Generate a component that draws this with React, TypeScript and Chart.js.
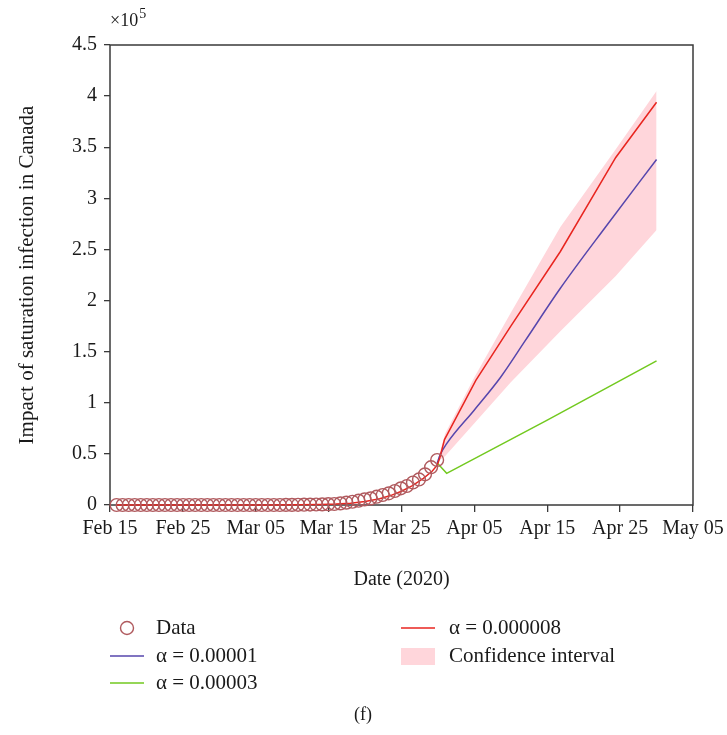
import React, { useEffect, useRef } from 'react';
import { Chart, registerables } from 'chart.js';

Chart.register(...registerables);

// ---- data (values in units of 10^5) ----
const xTickLabels = ['Feb 15', 'Feb 25', 'Mar 05', 'Mar 15', 'Mar 25', 'Apr 05', 'Apr 15', 'Apr 25', 'May 05'];

const observed = [
  0, 0, 0, 0, 0, 0, 0, 0, 0, 0,
  0, 0, 0, 0, 0, 0, 0, 0, 0, 0,
  0, 0, 0, 0, 0, 0, 0, 0, 0.001, 0.001,
  0.002, 0.003, 0.004, 0.005, 0.006, 0.008, 0.010, 0.016, 0.023, 0.032,
  0.042, 0.055, 0.065, 0.081, 0.098, 0.114, 0.137, 0.163, 0.186, 0.22,
  0.25, 0.30, 0.37, 0.44,
];
const OBS_START = 0.9;
const OBS_STEP = 0.83;

const fitDays = [0.9, 15, 22, 26, 29, 31, 33, 35, 37, 38.5, 40, 41.5, 43, 44.2, 44.9, 45.25, 45.9, 46.5, 50.2, 55, 61.8, 69.4, 75];
const alpha8 = [0, 0, 0.0005, 0.002, 0.005, 0.009, 0.018, 0.034, 0.062, 0.092, 0.135, 0.19, 0.26, 0.33, 0.39, 0.46, 0.64, 0.72, 1.22, 1.75, 2.48, 3.40, 3.94];

const alpha10Days = [44.9, 45.3, 46.2, 50, 53.6, 57, 61.8, 68, 75];
const alpha10 = [0.41, 0.49, 0.60, 0.93, 1.25, 1.61, 2.12, 2.72, 3.38];

const alpha30Days = [44.9, 46.2, 60, 75];
const alpha30 = [0.41, 0.31, 0.83, 1.41];

const ciDays = [44.9, 46, 50, 55, 61.8, 69.4, 75];
const ciUpper = [0.42, 0.70, 1.25, 1.88, 2.72, 3.48, 4.05];
const ciLower = [0.42, 0.48, 0.80, 1.20, 1.70, 2.24, 2.69];

// ---- styles ----
const FONT = "'Liberation Serif', 'Times New Roman', serif";
const TEXT = '#1a1a1a';
const AXIS = '#3a3a3a';
const C_DATA = '#b05a5e';
const C_RED = '#e8251f';
const C_BLUE = '#5646ad';
const C_GREEN = '#72c91f';
const C_PINK = '#ffd6db';

const pts = (xs: number[], ys: number[]) => xs.map((x, i) => ({ x, y: ys[i] }));

const decorPlugin = {
  id: 'decor',
  beforeDatasetsDraw(chart: any) {
    const { ctx, chartArea: a } = chart;
    ctx.save();
    ctx.strokeStyle = AXIS;
    ctx.lineWidth = 1.5;
    ctx.strokeRect(a.left, a.top, a.right - a.left, a.bottom - a.top);
    ctx.restore();
  },
  afterDraw(chart: any) {
    const { ctx, chartArea: a } = chart;
    ctx.save();
    ctx.fillStyle = TEXT;
    ctx.textBaseline = 'middle';

    // y title
    ctx.save();
    ctx.translate(27, (a.top + a.bottom) / 2);
    ctx.rotate(-Math.PI / 2);
    ctx.textAlign = 'center';
    ctx.font = `21px ${FONT}`;
    ctx.fillText('Impact of saturation infection in Canada', 0, 0);
    ctx.restore();

    // x title
    ctx.textAlign = 'center';
    ctx.font = `20px ${FONT}`;
    ctx.fillText('Date (2020)', (a.left + a.right) / 2, 580);

    // exponent
    ctx.textAlign = 'left';
    ctx.font = `18px ${FONT}`;
    ctx.fillText('×10', a.left, 21);
    const w = ctx.measureText('×10').width;
    ctx.font = `14px ${FONT}`;
    ctx.fillText('5', a.left + w + 1, 14);

    // legend
    const rows = [628, 656, 683];
    const c1x = 110, c1t = 156, c2x = 401, c2t = 449, lw = 34;
    ctx.font = `21px ${FONT}`;
    ctx.textAlign = 'left';

    ctx.strokeStyle = C_DATA;
    ctx.lineWidth = 1.4;
    ctx.beginPath();
    ctx.arc(c1x + lw / 2, rows[0], 6.5, 0, Math.PI * 2);
    ctx.stroke();
    ctx.fillText('Data', c1t, rows[0]);

    const line = (x: number, y: number, color: string) => {
      ctx.strokeStyle = color;
      ctx.lineWidth = 1.5;
      ctx.beginPath();
      ctx.moveTo(x, y);
      ctx.lineTo(x + lw, y);
      ctx.stroke();
    };
    line(c1x, rows[1], C_BLUE);
    ctx.fillText('α = 0.00001', c1t, rows[1]);
    line(c1x, rows[2], C_GREEN);
    ctx.fillText('α = 0.00003', c1t, rows[2]);
    line(c2x, rows[0], C_RED);
    ctx.fillText('α = 0.000008', c2t, rows[0]);
    ctx.fillStyle = C_PINK;
    ctx.fillRect(c2x, rows[1] - 8, lw, 17);
    ctx.fillStyle = TEXT;
    ctx.fillText('Confidence interval', c2t, rows[1]);

    // panel label
    ctx.textAlign = 'center';
    ctx.font = `18px ${FONT}`;
    ctx.fillText('(f)', 363, 715);
    ctx.restore();
  },
};

export default function App() {
  const ref = useRef<HTMLCanvasElement | null>(null);

  useEffect(() => {
    if (!ref.current) return;
    const obsPts = observed.map((y, i) => ({ x: OBS_START + i * OBS_STEP, y }));
    const chart = new Chart(ref.current, {
      type: 'line',
      data: {
        datasets: [
          {
            label: 'Data',
            data: obsPts,
            showLine: false,
            pointRadius: 6.4,
            pointHoverRadius: 6.4,
            pointBorderColor: C_DATA,
            pointBackgroundColor: 'rgba(0,0,0,0)',
            pointBorderWidth: 1.4,
            borderColor: C_DATA,
            order: 0,
            clip: false,
          } as any,
          {
            label: 'α = 0.000008',
            data: pts(fitDays, alpha8),
            borderColor: C_RED,
            borderWidth: 1.5,
            pointRadius: 0,
            tension: 0,
            fill: false,
            order: 1,
            clip: false,
          } as any,
          {
            label: 'α = 0.00001',
            data: pts(alpha10Days, alpha10),
            borderColor: C_BLUE,
            borderWidth: 1.5,
            pointRadius: 0,
            cubicInterpolationMode: 'monotone',
            fill: false,
            order: 2,
          },
          {
            label: 'α = 0.00003',
            data: pts(alpha30Days, alpha30),
            borderColor: C_GREEN,
            borderWidth: 1.5,
            pointRadius: 0,
            tension: 0,
            fill: false,
            order: 3,
          },
          {
            label: 'CI upper',
            data: pts(ciDays, ciUpper),
            borderWidth: 0,
            borderColor: 'rgba(0,0,0,0)',
            pointRadius: 0,
            tension: 0,
            fill: false,
            order: 4,
          },
          {
            label: 'Confidence interval',
            data: pts(ciDays, ciLower),
            borderWidth: 0,
            borderColor: 'rgba(0,0,0,0)',
            backgroundColor: C_PINK,
            pointRadius: 0,
            tension: 0,
            fill: '-1',
            order: 5,
          },
        ],
      },
      options: {
        animation: false,
        responsive: false,
        events: [],
        layout: { padding: { top: 45, right: 34, bottom: 0, left: 0 } },
        plugins: {
          legend: { display: false },
          tooltip: { enabled: false },
          title: { display: false },
        },
        scales: {
          x: {
            type: 'linear',
            min: 0,
            max: 80,
            afterFit: (s: any) => { s.height = 230; s.paddingLeft = 0; s.paddingRight = 0; },
            border: { display: false },
            grid: { display: true, drawOnChartArea: false, drawTicks: true, tickLength: 7, color: AXIS, lineWidth: 1.3 },
            ticks: {
              stepSize: 10,
              autoSkip: false,
              maxRotation: 0,
              padding: 5,
              color: TEXT,
              font: { family: FONT, size: 20 },
              callback: (v: any) => xTickLabels[Math.round(Number(v) / 10)] ?? '',
            },
          },
          y: {
            type: 'linear',
            min: 0,
            max: 4.5,
            afterFit: (s: any) => { s.width = 110; s.paddingTop = 0; s.paddingBottom = 0; },
            border: { display: false },
            grid: { display: true, drawOnChartArea: false, drawTicks: true, tickLength: 6, color: AXIS, lineWidth: 1.3 },
            ticks: {
              stepSize: 0.5,
              padding: 7,
              color: TEXT,
              font: { family: FONT, size: 20 },
              callback: (v: any) => `${+Number(v).toFixed(2)}`,
            },
          },
        },
      } as any,
      plugins: [decorPlugin],
    });
    return () => chart.destroy();
  }, []);

  return (
    <div style={{ position: 'absolute', left: 0, top: 0, width: 727, height: 735, background: '#fff' }}>
      <canvas ref={ref} width={727} height={735} style={{ width: 727, height: 735, display: 'block' }} />
    </div>
  );
}
